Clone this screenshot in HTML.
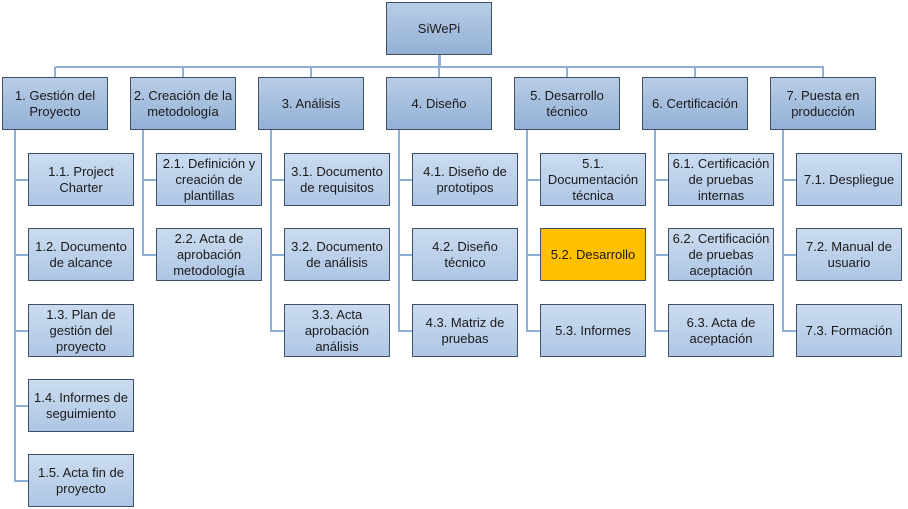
<!DOCTYPE html>
<html><head><meta charset="utf-8"><style>
body{margin:0;width:908px;height:509px;background:#fff;position:relative;overflow:hidden;font-family:"Liberation Sans",sans-serif;}
.b{position:absolute;width:104px;height:51px;border:1px solid #3f4f66;display:flex;align-items:center;justify-content:center;text-align:center;font-size:13px;line-height:16px;color:#1a1a1a;box-sizing:content-box;}
.l1{background:linear-gradient(#b9cde6,#93b1d6);}
.l2{background:linear-gradient(#cbdcf0,#aec6e4);}
.y{background:#ffc000;}
.ln{position:absolute;background:#8eb0d8;}
</style></head><body>
<div class="ln" style="left:438px;top:55px;width:3px;height:12px"></div>
<div class="ln" style="left:55px;top:66px;width:769px;height:2px"></div>

<div class="b l1" style="left:386px;top:2px">SiWePi</div>

<script>
const cols=[
["1. Gestión del<br>Proyecto",["1.1. Project<br>Charter","1.2. Documento<br>de alcance","1.3. Plan de<br>gestión del<br>proyecto","1.4. Informes de<br>seguimiento","1.5. Acta fin de<br>proyecto"]],
["2. Creación de la<br>metodología",["2.1. Definición y<br>creación de<br>plantillas","2.2. Acta de<br>aprobación<br>metodología"]],
["3. Análisis",["3.1. Documento<br>de requisitos","3.2. Documento<br>de análisis","3.3. Acta<br>aprobación<br>análisis"]],
["4. Diseño",["4.1. Diseño de<br>prototipos","4.2. Diseño<br>técnico","4.3. Matriz de<br>pruebas"]],
["5. Desarrollo<br>técnico",["5.1.<br>Documentación<br>técnica","5.2. Desarrollo","5.3. Informes"]],
["6. Certificación",["6.1. Certificación<br>de pruebas<br>internas","6.2. Certificación<br>de pruebas<br>aceptación","6.3. Acta de<br>aceptación"]],
["7. Puesta en<br>producción",["7.1. Despliegue","7.2. Manual de<br>usuario","7.3. Formación"]]];
let h='';
cols.forEach((c,i)=>{
 const x=2+128*i;
 h+=`<div class="ln" style="left:${x+52}px;top:67px;width:2px;height:10px"></div>`;
 h+=`<div class="b l1" style="left:${x}px;top:77px">${c[0]}</div>`;
 const n=c[1].length;
 const lastc=Math.round(153+75.3*(n-1))+26;
 h+=`<div class="ln" style="left:${x+12}px;top:130px;width:2px;height:${lastc-130+1}px"></div>`;
 c[1].forEach((t,j)=>{
  const y=Math.round(153+75.3*j);
  h+=`<div class="ln" style="left:${x+12}px;top:${y+26}px;width:14px;height:2px"></div>`;
  h+=`<div class="b ${t=='5.2. Desarrollo'?'y':'l2'}" style="left:${x+26}px;top:${y}px">${t}</div>`;
 });
});
document.write(h);
</script>
</body></html>
